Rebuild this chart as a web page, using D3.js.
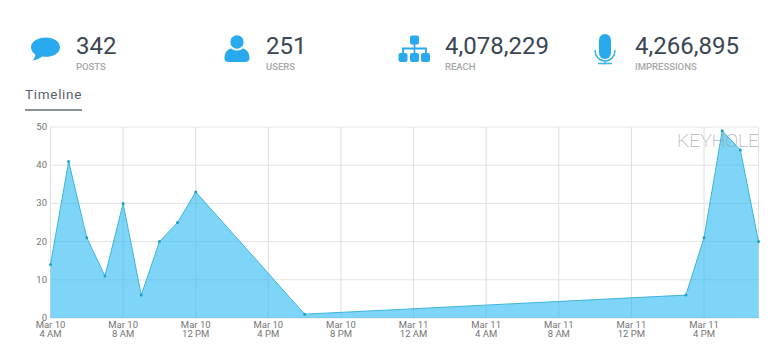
<!DOCTYPE html>
<html><head><meta charset="utf-8">
<script src="https://cdn.jsdelivr.net/npm/d3@7/dist/d3.min.js"></script>
<style>html,body{margin:0;padding:0;background:#fff;overflow:hidden}svg{display:block;font-family:Roboto,sans-serif}</style>
</head><body><svg id="c" width="768" height="358"></svg>
<script>
const hours=[0,1,2,3,4,5,6,7,8,14,35,36,37,38,39];
const values=[14,41,21,11,30,6,20,25,33,1,6,21,49,44,20];
const yTicks=[0,10,20,30,40,50];
const xTickHours=[0,4,8,12,16,20,24,28,32,36];
const xTickDays=["Mar 10","Mar 10","Mar 10","Mar 10","Mar 10","Mar 11","Mar 11","Mar 11","Mar 11","Mar 11"];
const xTickTimes=["4 AM","8 AM","12 PM","4 PM","8 PM","12 AM","4 AM","8 AM","12 PM","4 PM"];
const statValues=["342","251","4,078,229","4,266,895"];
const statLabels=["POSTS","USERS","REACH","IMPRESSIONS"];
const statX=[76,266,445,635];

const svg=d3.select("#c");
const L=50.5,R=758.5,T=127,B=318;
const x=d3.scaleLinear().domain([0,39]).range([L,R]);
const y=d3.scaleLinear().domain([0,50]).range([B,T]);
const blue="#29a9ee";

statX.forEach((sx,i)=>{
  svg.append("text").attr("x",sx).attr("y",54).attr("font-size",24).attr("fill","#3a4653").text(statValues[i]);
  svg.append("text").attr("x",sx).attr("y",69.5).attr("font-size",9.500).attr("font-weight",500).attr("fill","#a8a8a8").text(statLabels[i]);
});
svg.append("path").attr("fill",blue).attr("d","M46 37.500c8 0 14 4.300 14 9.700s-6 9.600-14 9.600c-1.500 0-2.800-.1-4-.4-2.500 2.200-5.500 3.400-9.500 4 1.600-1.700 2.600-3.600 2.800-6-2.600-1.800-4.300-4.300-4.300-7.200 0-5.400 6.500-9.700 15-9.700z");
svg.append("circle").attr("cx",237).attr("cy",42).attr("r",6.700).attr("fill",blue);
svg.append("path").attr("fill",blue).attr("d","M224.500 58c0-6 3.500-9 7-9.500 1.500 1.400 3.500 2 5.500 2s4-.6 5.500-2c3.500.5 7 3.500 7 9.500 0 3-2 4-5 4h-15c-3 0-5-1-5-4z");
const g=svg.append("g").attr("fill",blue);
g.append("rect").attr("x",410).attr("y",35.500).attr("width",9).attr("height",9).attr("rx",2);
[398.500,410,421].forEach(a=>g.append("rect").attr("x",a).attr("y",53).attr("width",9).attr("height",9).attr("rx",2));
g.append("path").attr("fill","none").attr("stroke",blue).attr("stroke-width",1.800).attr("d","M414.500 44v9M403 53v-4.500h23v4.500");
svg.append("rect").attr("x",599).attr("y",34).attr("width",12).attr("height",25).attr("rx",6).attr("fill",blue);
svg.append("path").attr("fill","none").attr("stroke","#3bb4ec").attr("stroke-width",1.500).attr("d","M595 50c0 6 4 11 10 11s10-5 10-11M605 61v3.500M598 63.500h14");

svg.append("text").attr("x",25).attr("y",99).attr("font-size",13.500).attr("letter-spacing",.7).attr("fill","#56606c").text("Timeline");
svg.append("rect").attr("x",25).attr("y",109).attr("width",57).attr("height",2).attr("fill","#8b929b");

svg.append("g").selectAll("line").data(yTicks).join("line")
 .attr("x1",L).attr("x2",R).attr("y1",d=>y(d)).attr("y2",d=>y(d)).attr("stroke","#e3e3e3").attr("stroke-width",1);
svg.append("g").selectAll("line").data(xTickHours).join("line")
 .attr("y1",T).attr("y2",B).attr("x1",d=>x(d)).attr("x2",d=>x(d)).attr("stroke","#dedede").attr("stroke-width",1);
svg.append("line").attr("x1",R).attr("x2",R).attr("y1",T).attr("y2",B).attr("stroke","#e3e3e3");

svg.append("g").selectAll("text").data(yTicks).join("text")
 .attr("x",47).attr("y",d=>y(d)+3).attr("text-anchor","end").attr("font-size",9.500).attr("fill","#757575").text(d=>d);
const xl=svg.append("g").selectAll("text").data(xTickHours).join("text")
 .attr("text-anchor","middle").attr("font-size",9.500).attr("fill","#757575");
xl.append("tspan").attr("x",d=>x(d)).attr("y",328).text((d,i)=>xTickDays[i]);
xl.append("tspan").attr("x",d=>x(d)).attr("y",337).text((d,i)=>xTickTimes[i]);

const pts=hours.map((h,i)=>[h,values[i]]);
svg.append("path").datum(pts).attr("fill","rgba(40,185,243,.6)")
 .attr("d",d3.area().x(d=>x(d[0])).y0(y(0)).y1(d=>y(d[1])));
svg.append("path").datum(pts).attr("fill","none").attr("stroke","#3fb5dc").attr("stroke-width",1)
 .attr("d",d3.line().x(d=>x(d[0])).y(d=>y(d[1])));
svg.append("g").selectAll("circle").data(pts).join("circle")
 .attr("cx",d=>x(d[0])).attr("cy",d=>y(d[1])).attr("r",1.500).attr("fill","#1f9fc4");

svg.append("text").attr("x",677).attr("y",146.500).attr("font-size",19).attr("font-weight",100).attr("textLength",82).attr("lengthAdjust","spacingAndGlyphs").attr("fill","#8f9499").text("KEYHOLE");
</script></body></html>
